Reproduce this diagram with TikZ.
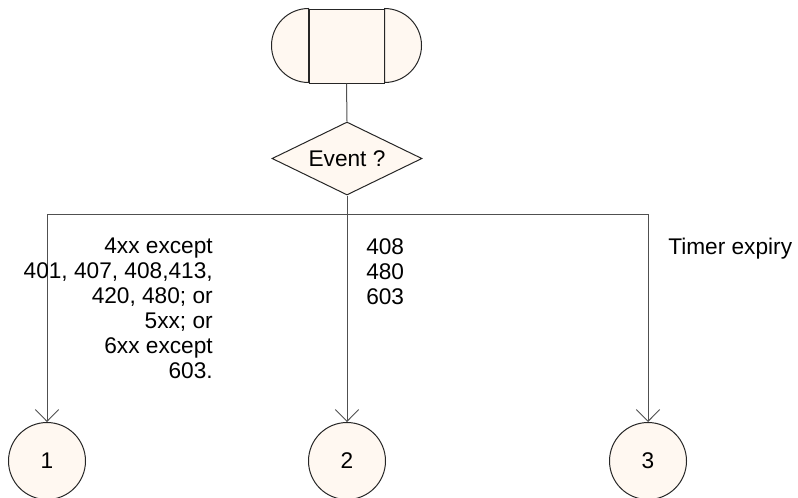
\documentclass[tikz,border=0pt]{standalone}
\usepackage{fontspec}
\setmainfont{Liberation Sans}
\usetikzlibrary{shapes.geometric, arrows.meta}
\definecolor{boxfill}{RGB}{255,248,241}
\definecolor{linegray}{RGB}{80,80,80}
\tikzset{
    sdlshape/.style={fill=boxfill, draw=black!85, line width=0.75pt},
    wire/.style={draw=linegray, line width=0.75pt},
    flow/.style={wire, -{Straight Barb[length=8.8pt, width=17.5pt]}},
    label text/.style={inner sep=0pt, font=\fontsize{17}{18.75}\selectfont},
    common settings/.style={x=0.75pt, y=-0.75pt}
}
\begin{document}
\begin{tikzpicture}[common settings]
    \useasboundingbox (0,0) rectangle (798,497);

    \def\ry{461}   % row of the connector circles
    \def\rr{27.75pt} % radius of the start symbol ends

    % Start symbol
    \node[sdlshape, minimum width=56.25pt, minimum height=55.5pt, inner sep=0pt] (start) at (346.5,46) {};
    \filldraw[sdlshape] (start.north west) arc (90:270:\rr) -- cycle;
    \filldraw[sdlshape] (start.north east) arc (90:-90:\rr) -- cycle;

    % Decision
    \node[sdlshape, diamond, aspect=2.05, minimum width=112.5pt, minimum height=54.75pt, inner sep=0pt, label text] (event) at (347,158.5) {Event ?};

    % Connector circles
    \node[sdlshape, circle, minimum size=57.75pt, inner sep=0pt, label text] (c1) at (47,\ry) {1};
    \node[sdlshape, circle, minimum size=57.75pt, inner sep=0pt, label text] (c2) at (347,\ry) {2};
    \node[sdlshape, circle, minimum size=57.75pt, inner sep=0pt, label text] (c3) at (648,\ry) {3};

    % Branch line
    \coordinate (split) at (347,214);
    \coordinate (b1) at (c1.north |- split);
    \coordinate (b3) at (c3.north |- split);
    \draw[wire] (start.south) -- (event.north);
    \draw[wire] (event.south) -- (split);
    \draw[wire] (b1) -- (b3);
    \draw[flow] (b1) -- (c1.north);
    \draw[flow] (split) -- (c2.north);
    \draw[flow] (b3) -- (c3.north);

    % Branch conditions
    \node[label text, align=right, anchor=north east] (cond1) at (213,238) {4xx except\\401, 407, 408,413,\\420, 480; or\\5xx; or\\6xx except\\603.};
    \node[label text, align=left, anchor=north west] (cond2) at (366,238) {408\\480\\603};
    \node[label text, anchor=north west] (cond3) at (668,238) {Timer expiry};
\end{tikzpicture}
\end{document}
